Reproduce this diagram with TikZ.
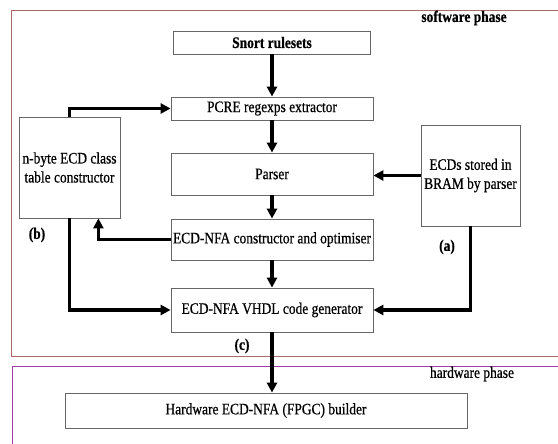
\documentclass[tikz,border=0pt]{standalone}
\usepackage{fontspec}
\setmainfont{Liberation Serif}[FakeStretch=0.84,FakeBold=0.6]
\usetikzlibrary{arrows.meta}

\definecolor{swframe}{RGB}{170,105,105}
\definecolor{hwframe}{RGB}{160,60,170}

\tikzset{
  stage/.style={draw=black!60, line width=0.8pt, fill=white, inner sep=1pt, align=center,
    font=\fontsize{16}{19}\selectfont},
  flow/.style={line width=3.2pt, -{Triangle[length=10pt,width=10pt]}},
  tag/.style={font=\fontsize{16}{19}\selectfont},
}

\begin{document}
\begin{tikzpicture}[x=1pt,y=-1pt]
\useasboundingbox (0,0) rectangle (558,444);

% phase frames
\draw[swframe, line width=0.8pt] (565,10) -- (11,10) -- (11,356) -- (565,356);
\draw[hwframe, line width=0.8pt] (565,366) -- (12,366) -- (12,450);
\node[tag, font=\fontsize{16}{19}\selectfont\bfseries] (swphase) at (464,18) {software phase};
\node[tag] (hwphase) at (472,374) {hardware phase};

% main chain
\node[stage, minimum width=197pt, minimum height=23pt] (snort) at (272,42.5) {\textbf{Snort rulesets}};
\node[stage, minimum width=202pt, minimum height=23pt] (pcre) at (272,108.5) {PCRE regexps extractor};
\node[stage, minimum width=202pt, minimum height=42pt] (parser) at (272,174) {Parser};
\node[stage, minimum width=202pt, minimum height=41pt] (optim) at (272,239.5) {ECD-NFA constructor and optimiser};
\node[stage, minimum width=202pt, minimum height=44pt] (vhdl) at (272,310) {ECD-NFA VHDL code generator};
\node[stage, minimum width=402pt, minimum height=35pt] (hw) at (266,410.5) {Hardware ECD-NFA (FPGC) builder};

% side boxes
\node[stage, minimum width=101pt, minimum height=101pt] (ecdclass) at (69.5,167.5) {n-byte ECD class\\table constructor};
\node[stage, minimum width=99pt, minimum height=101pt] (bram) at (470.5,175.5) {ECDs stored in\\BRAM by parser};

\draw[flow] (snort) -- (pcre);
\draw[flow] (pcre) -- (parser);
\draw[flow] (parser) -- (optim);
\draw[flow] (optim) -- (vhdl);
\draw[flow] (vhdl.south) -- (vhdl.south |- hw.north);

\draw[flow] (ecdclass.north) |- (pcre.west);
\draw[flow] (optim.west) -| ([xshift=-22pt]ecdclass.south east);
\draw[flow] (ecdclass.south) |- (vhdl.west);
\draw[flow] (bram.west) -- (parser.east |- bram.west);
\draw[flow] (bram.south) |- (vhdl.east);

\node[tag, font=\fontsize{16}{19}\selectfont\bfseries] (lblb) at (37,235) {(b)};
\node[tag, font=\fontsize{16}{19}\selectfont\bfseries] (lbla) at (447,247) {(a)};
\node[tag, font=\fontsize{16}{19}\selectfont\bfseries] (lblc) at (242,346) {(c)};

\end{tikzpicture}
\end{document}
